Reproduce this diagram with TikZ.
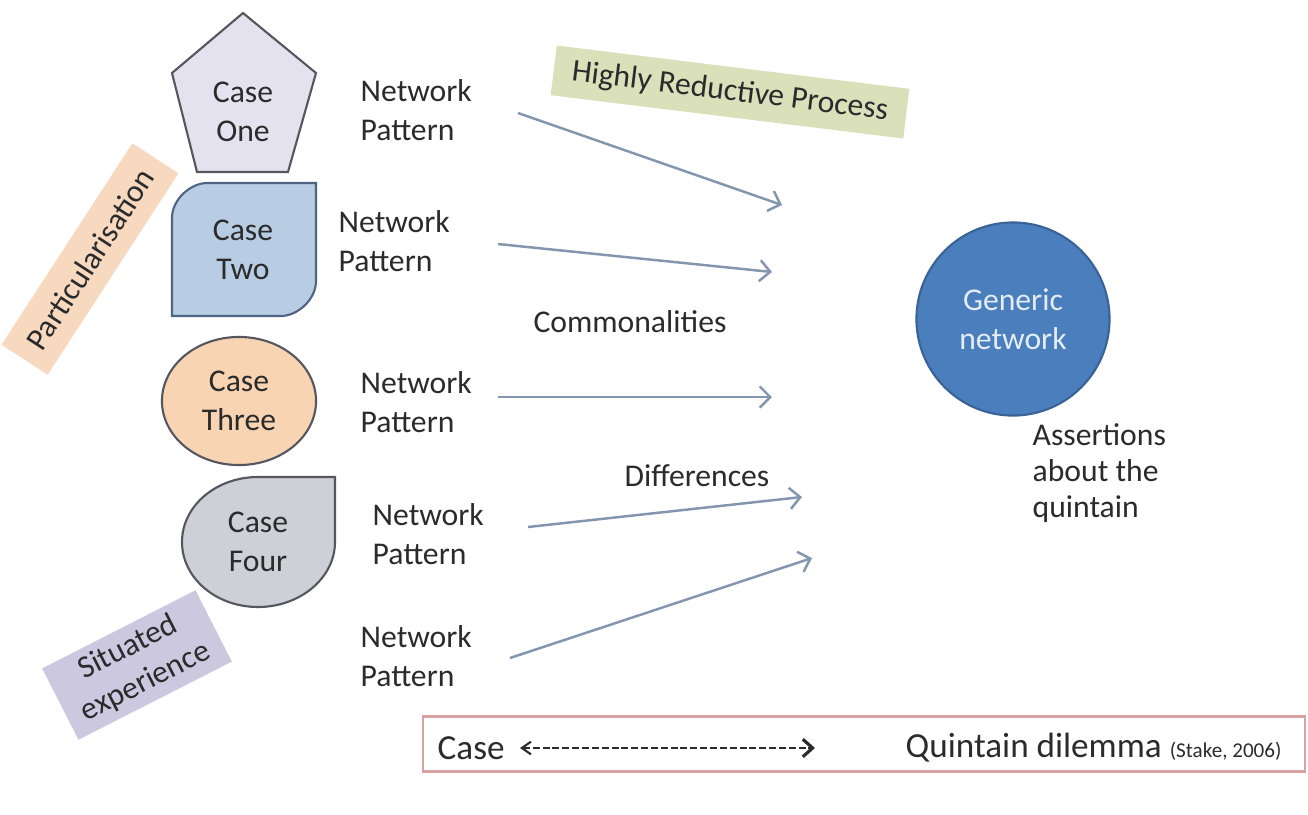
\documentclass[tikz,border=0pt]{standalone}
\usepackage{fontspec}
\setmainfont{Carlito}
\usetikzlibrary{shapes,calc,arrows.meta}

\definecolor{ink}{HTML}{2B2B2B}
\definecolor{edge}{HTML}{55565F}
\definecolor{oneFill}{HTML}{E4E2EE}
\definecolor{twoFill}{HTML}{B8CCE4}
\definecolor{twoEdge}{HTML}{4F6383}
\definecolor{threeFill}{HTML}{F8D4B2}
\definecolor{fourFill}{HTML}{CDD0D6}
\definecolor{partFill}{HTML}{F7D9C0}
\definecolor{sitFill}{HTML}{CCC8DF}
\definecolor{redFill}{HTML}{D9E0BA}
\definecolor{genFill}{HTML}{4A7EBC}
\definecolor{genEdge}{HTML}{3A6296}
\definecolor{flowCol}{HTML}{8496AE}
\definecolor{boxEdge}{HTML}{D8A2A2}

\begin{document}
\begin{tikzpicture} [x=0.01cm, y=-0.01cm,
				case/.style={
				% The border:
				draw=edge,
				line width=0.6pt
				},
				tag/.style={
				% The shape:
				rectangle,
				% The size:
				inner sep=0pt,
				% The border:
				draw=none
				},
				flow/.style={
				draw=flowCol,
				line width=0.7pt,
				-{Straight Barb[length=3pt,width=6pt]}
				},
				]
    \tikzstyle{every node} = [align=center, text=ink, font=\fontsize{9}{11}\selectfont]
    \tikzstyle{pattern} = [inner sep=0pt, anchor=west, align=left]
    % \tikzstyle{case} = [draw=edge]
    \fill[white] (0,0) rectangle (1308,814);

    % the four cases
    \draw[case, fill=oneFill] (243,13) -- (316,73) -- (288,172) -- (197,172) -- (172,73) -- cycle;
    \node (one) at (243,112) {Case\\One};
    \draw[case, draw=twoEdge, fill=twoFill] (172,316) -- (172,218) .. controls (172,199) and (191,183) .. (207,183)
        -- (316,183) -- (316,281) .. controls (316,300) and (297,316) .. (281,316) -- cycle;
    \node (two) at (243,250) {Case\\Two};
    \node [case, ellipse, fill=threeFill, minimum width=1.54cm, minimum height=1.28cm] (three) at (239,401) {Case\\Three};
    \draw[case, fill=fourFill] (335,542) .. controls (335,578) and (300,607) .. (258,607)
        .. controls (216,607) and (182,578) .. (182,542) .. controls (182,506) and (216,477) .. (258,477)
        -- (335,477) -- cycle;
    \node (four) at (258,542) {Case\\Four};

    % side labels
    \node [tag, fill=partFill, rotate=57, minimum width=2.4cm, minimum height=0.55cm] (part) at (90,259) {Particularisation};
    \node [tag, fill=sitFill, rotate=27, minimum width=1.72cm, minimum height=0.8cm] (sit) at (137,665) {Situated\\experience};
    \node [tag, fill=redFill, rotate=-7, minimum width=3.55cm, minimum height=0.5cm] (reductive) at (730,92) {Highly Reductive Process};

    % network patterns
    \node [pattern] (np1) at (360,110) {Network\\Pattern};
    \node [pattern] (np2) at (338,241) {Network\\Pattern};
    \node [pattern] (np3) at (360,402) {Network\\Pattern};
    \node [pattern] (np4) at (372,534) {Network\\Pattern};
    \node [pattern] (np5) at (360,656) {Network\\Pattern};

    \coordinate (s1) at (518,113); \coordinate (e1) at (782,205);
    \coordinate (s2) at (498,244); \coordinate (e2) at (772,272);
    \coordinate (s3) at (498,397); \coordinate (e3) at (772,397);
    \coordinate (s4) at (528,527); \coordinate (e4) at (802,497);
    \coordinate (s5) at (510,658); \coordinate (e5) at (812,558);
    \foreach \i in {1,...,5}
        \draw [flow] (s\i) -- (e\i);

    \node (common) at (630,322) {Commonalities};
    \node (diff) at (697,476) {Differences};

    % generic network
    \node [circle, draw=genEdge, line width=0.6pt, fill=genFill, text=white!85!genFill, minimum size=1.93cm] (generic) at (1013,319) {Generic\\network};
    \node [pattern, font=\fontsize{9}{10.3}\selectfont] (assert) at (1032,473) {Assertions\\about the\\quintain};

    % dilemma strip
    \node [draw=boxEdge, line width=0.6pt, minimum width=8.81cm, minimum height=0.55cm] (strip) at (864,744) {};
    \node [pattern, font=\fontsize{10}{12}\selectfont] (case) at (437,748) {Case};
    \node [pattern, font=\fontsize{10}{12}\selectfont] (quintain) at (905,748) {Quintain dilemma {\fontsize{6}{7}\selectfont(Stake, 2006)}};
    \coordinate (dl) at (520,748); \coordinate (dr) at (815,748);
    \draw [ink, line width=0.6pt, dash pattern=on 2pt off 0.8pt, {Straight Barb[length=2.6pt,width=3.6pt]}-{Straight Barb[length=2.8pt,width=5pt,line width=0.9pt]}] (dl) -- (dr);
\end{tikzpicture}
\end{document}
